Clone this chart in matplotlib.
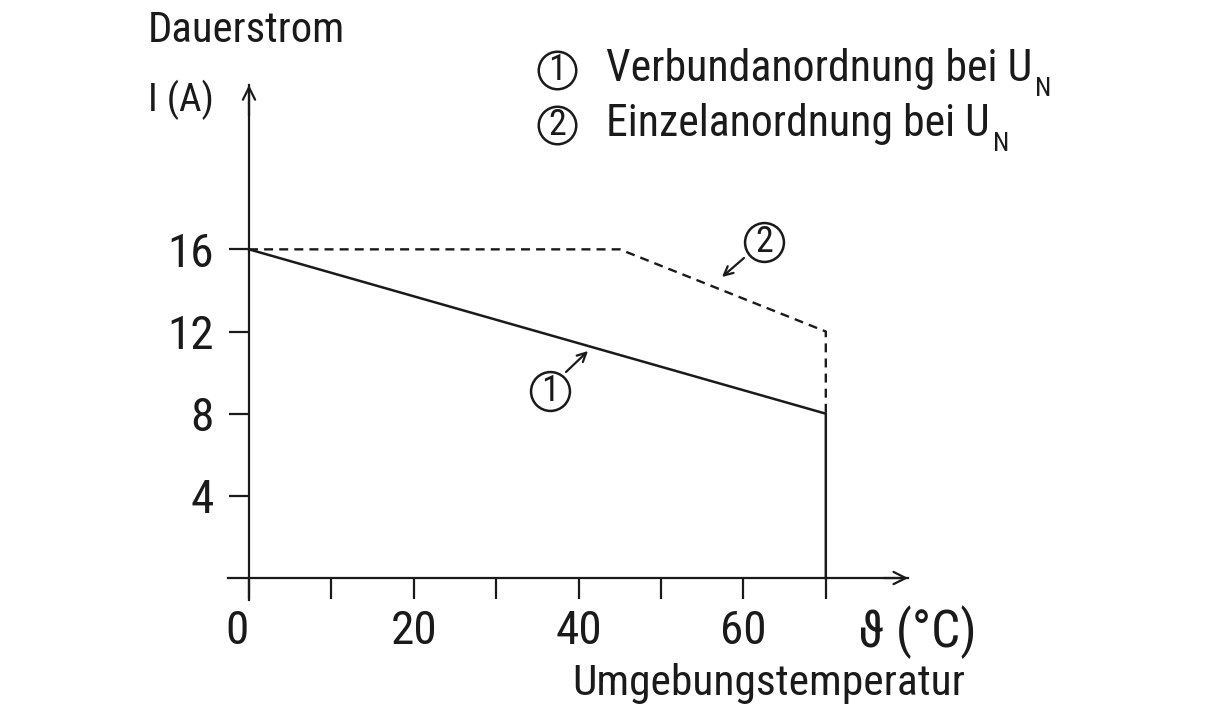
import matplotlib
matplotlib.use('Agg')
import matplotlib.pyplot as plt
from matplotlib import font_manager
from matplotlib.transforms import ScaledTranslation

# ---- data ----
temp_verbund = [0, 70, 70]
current_verbund = [16, 8, 0]
temp_einzel = [0, 45, 70, 70]
current_einzel = [16, 16, 12, 8]
x_ticks = [0, 10, 20, 30, 40, 50, 60, 70]
x_ticklabels = ['0', '', '20', '', '40', '', '60', '']
y_ticks = [4, 8, 12, 16]
y_ticklabels = ['4', '8', '12', '16']
legend_labels = ['Verbundanordnung bei U', 'Einzelanordnung bei U']

available = {f.name for f in font_manager.fontManager.ttflist}
main_font = 'DejaVu Sans'
for cand in ['Roboto Condensed', 'Liberation Sans Narrow', 'Open Sans Condensed',
             'Noto Sans Condensed', 'Roboto', 'Liberation Sans']:
    if cand in available:
        main_font = cand
        break
FONT = [main_font, 'DejaVu Sans']
plt.rcParams['font.family'] = FONT

W, H = 1214, 720
fig = plt.figure(figsize=(W / 100, H / 100), dpi=100)
fig.patch.set_facecolor('white')
INK = '#1a1a1a'

x0, x1 = -2.5, 80
y0, y1 = -1.05, 24
left_px, right_px = 228.4, 908.2
bottom_px, top_px = 599.6, 85
ax = fig.add_axes([left_px / W, (H - bottom_px) / H,
                   (right_px - left_px) / W, (bottom_px - top_px) / H])
ax.set_xlim(x0, x1)
ax.set_ylim(y0, y1)
ax.patch.set_alpha(0)
for s in ['top', 'right']:
    ax.spines[s].set_visible(False)
ax.spines['left'].set_position(('data', 0))
ax.spines['bottom'].set_position(('data', 0))
for s in ['left', 'bottom']:
    ax.spines[s].set_linewidth(1.6)
    ax.spines[s].set_color(INK)

ax.set_xticks(x_ticks)
ax.set_xticklabels(x_ticklabels)
ax.set_yticks(y_ticks)
ax.set_yticklabels(y_ticklabels)
ax.tick_params(axis='x', direction='out', length=15, width=1.6, pad=7,
               labelsize=34, colors=INK)
ax.tick_params(axis='y', direction='out', length=14.5, width=1.6, pad=11,
               labelsize=34, colors=INK)
lab0 = ax.xaxis.get_major_ticks()[0].label1
lab0.set_transform(lab0.get_transform() + ScaledTranslation(-12 / 100, 0, fig.dpi_scale_trans))

# axis arrow heads
ax.annotate('', xy=(x1, 0), xytext=(x1 - 3, 0),
            arrowprops=dict(arrowstyle='->', lw=1.6, color=INK, mutation_scale=22,
                            shrinkA=0, shrinkB=0), annotation_clip=False)
ax.annotate('', xy=(0, y1), xytext=(0, y1 - 1.5),
            arrowprops=dict(arrowstyle='->', lw=1.6, color=INK, mutation_scale=22,
                            shrinkA=0, shrinkB=0), annotation_clip=False)

# curves
ax.plot(temp_verbund, current_verbund, color=INK, lw=1.8, solid_joinstyle='miter',
        clip_on=False)
ax.plot(temp_einzel, current_einzel, color=INK, lw=1.7, linestyle=(0, (3.8, 2.6)),
        clip_on=False)


def px(xp, yp):
    return ((xp - 249) / 8.24, (578 - yp) / 20.54)


def circ_num(xp, yp, num, size=28, fs=22):
    cx, cy = px(xp, yp)
    ax.plot([cx], [cy], marker='o', ms=size, mfc='none', mec=INK, mew=1.8,
            clip_on=False)
    ax.text(cx, cy, num, ha='center', va='center', fontsize=fs, color=INK,
            clip_on=False)


circ_num(764, 242, '2', size=28, fs=26)
ax.annotate('', xy=px(722, 277), xytext=px(744, 258),
            arrowprops=dict(arrowstyle='->', lw=1.6, color=INK, mutation_scale=16,
                            shrinkA=0, shrinkB=0))
circ_num(550, 391, '1', size=28, fs=26)
ax.annotate('', xy=px(588, 351), xytext=px(566, 372),
            arrowprops=dict(arrowstyle='->', lw=1.6, color=INK, mutation_scale=16,
                            shrinkA=0, shrinkB=0))

circ_num(557, 70, '1', size=27, fs=26)
circ_num(557, 125, '2', size=27, fs=26)

fig.canvas.draw()
r = fig.canvas.get_renderer()


def fit_text(xp, yp, s, size_h, target_w, **kw):
    t = fig.text(xp / W, 1 - yp / H, s, ha='left', va='center', fontsize=size_h,
                 color=INK, **kw)
    w = t.get_window_extent(r).width
    fs = size_h * target_w / w
    fs = min(max(fs, size_h * 0.8), size_h * 1.3)
    t.set_fontsize(fs)
    return t


legend_y = [69, 124]
legend_w = [425, 383]
for lbl, yp, tw in zip(legend_labels, legend_y, legend_w):
    t = fit_text(606, yp, lbl, 28, tw)
    bb = t.get_window_extent(r)
    fig.text((bb.x1 + 3) / W, 1 - (yp + 20) / H, 'N', ha='left', va='center',
             fontsize=19, color=INK)

fit_text(148, 30, 'Dauerstrom', 31, 197)
fit_text(148, 100, 'I (A)', 31, 66)
fit_text(858, 632, 'ϑ (°C)', 30, 118)
fit_text(572, 683, 'Umgebungstemperatur', 30, 393)

fig.savefig('out.png', dpi=100, facecolor='white')
